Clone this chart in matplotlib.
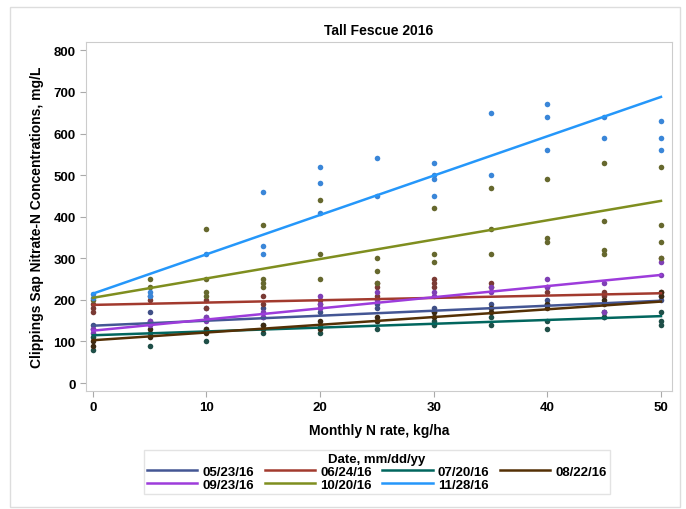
import numpy as np
import matplotlib
matplotlib.use("Agg")
import matplotlib.pyplot as plt
from matplotlib.patches import Rectangle

plt.rcParams['font.family'] = ['Liberation Sans', 'DejaVu Sans']
plt.rcParams['font.weight'] = 'bold'

# Sampling dates and N rates
dates = ["05/23/16", "06/24/16", "07/20/16", "08/22/16",
         "09/23/16", "10/20/16", "11/28/16"]
n_rates = [0, 5, 10, 15, 20, 25, 30, 35, 40, 45, 50]

# Sap nitrate readings per date, one list of readings per N rate
nitrate_0523 = [[140, 130], [210, 170, 150], [180, 160], [180, 160], [170, 180],
                [190, 180], [180, 170], [190, 180], [200, 190], [170, 160], [210, 200]]
nitrate_0624 = [[180, 170, 190], [200], [200, 180], [210, 190], [200, 190],
                [240, 230, 210], [250, 240, 230], [240, 230], [230, 220], [210, 220], [300, 220]]
nitrate_0720 = [[110, 80], [90, 120], [100, 130], [120, 140], [120, 140],
                [130, 150], [140, 150], [140, 160], [130, 150], [160, 170], [140, 150, 170]]
nitrate_0822 = [[100, 90], [130, 110], [130, 120], [140, 130], [150, 130],
                [160, 150], [170, 160], [180, 170], [190, 180], [200, 190], [220, 210]]
nitrate_0923 = [[130, 120], [140, 150], [160, 150], [170, 160], [210, 180, 190],
                [220, 200], [220, 210], [230, 220], [250, 230], [240, 170], [290, 260]]
nitrate_1020 = [[200], [250, 230], [370, 250, 220, 210], [380, 250, 240, 230], [440, 310, 250],
                [300, 270, 240], [420, 310, 290], [470, 370, 310], [490, 350, 340],
                [530, 390, 320, 310], [520, 380, 340, 300]]
nitrate_1128 = [[205, 215], [210, 220], [310], [460, 330, 310], [520, 480, 410],
                [540, 450], [530, 500, 490, 450], [650, 500], [670, 640, 560],
                [640, 590], [630, 590, 560]]

# Regression line values at 0 and 50 kg/ha
fit_at_0 = [138, 188, 115, 103, 126, 205, 215]
fit_at_50 = [198, 216, 161, 196, 260, 438, 688]

line_colors = ["#445694", "#A23A2E", "#01665E", "#543005",
               "#9D3CDB", "#7F8E1F", "#2597FA"]
marker_colors = ["#3f4f86", "#7a3a34", "#1f4f48", "#3d2b14",
                 "#7f3fb5", "#66682e", "#3a86d8"]

all_series = [nitrate_0523, nitrate_0624, nitrate_0720, nitrate_0822,
              nitrate_0923, nitrate_1020, nitrate_1128]

fig = plt.figure(figsize=(6.86, 5.10), dpi=100)
ax = fig.add_axes([86 / 686, 1 - 392 / 510, (672 - 86) / 686, (392 - 43) / 510])

handles = []
for i, series in enumerate(all_series):
    xs = []
    ys = []
    for rate, vals in zip(n_rates, series):
        xs += [rate] * len(vals)
        ys += vals
    ax.scatter(xs, ys, s=16, color=marker_colors[i], zorder=3, linewidths=0)

for i in range(len(dates)):
    ln, = ax.plot([n_rates[0], n_rates[-1]], [fit_at_0[i], fit_at_50[i]],
                  color=line_colors[i], lw=1.8, zorder=4, label=dates[i])
    handles.append(ln)

ax.set_xlim(-0.6, 50.97)
ax.set_ylim(-19, 820)
ax.set_xticks(range(0, 51, 10))
ax.set_yticks(range(0, 801, 100))
ax.tick_params(labelsize=9.5, color="#aaaaaa", length=4)
for s in ax.spines.values():
    s.set_color("#cccccc")

ax.set_title("Tall Fescue 2016", fontsize=10, fontweight='bold', pad=6)
ax.set_xlabel("Monthly N rate, kg/ha", fontsize=10, fontweight='bold', labelpad=7)
ax.set_ylabel("Clippings Sap Nitrate-N Concentrations, mg/L", fontsize=10,
              fontweight='bold', labelpad=7)

# legend entries in row order across 4 columns
order = [0, 4, 1, 5, 2, 6, 3]
leg = fig.legend([handles[k] for k in order], [dates[k] for k in order],
                 ncol=4, loc='center', bbox_to_anchor=(377 / 686, 1 - 473 / 510),
                 title="Date, mm/dd/yy", fontsize=9.5, title_fontsize=9.5,
                 handlelength=3.8, columnspacing=0.8, handletextpad=0.4,
                 labelspacing=0.05, borderpad=0.25, frameon=True, fancybox=False)
leg.get_frame().set_edgecolor("#dddddd")
leg.get_title().set_fontweight('bold')

# outer border around the graph
fig.patches.append(Rectangle((10 / 686, 2 / 510), 670 / 686, 500 / 510,
                             transform=fig.transFigure, fill=False,
                             edgecolor="#dddddd", lw=1))

fig.savefig("out.png", dpi=100)
